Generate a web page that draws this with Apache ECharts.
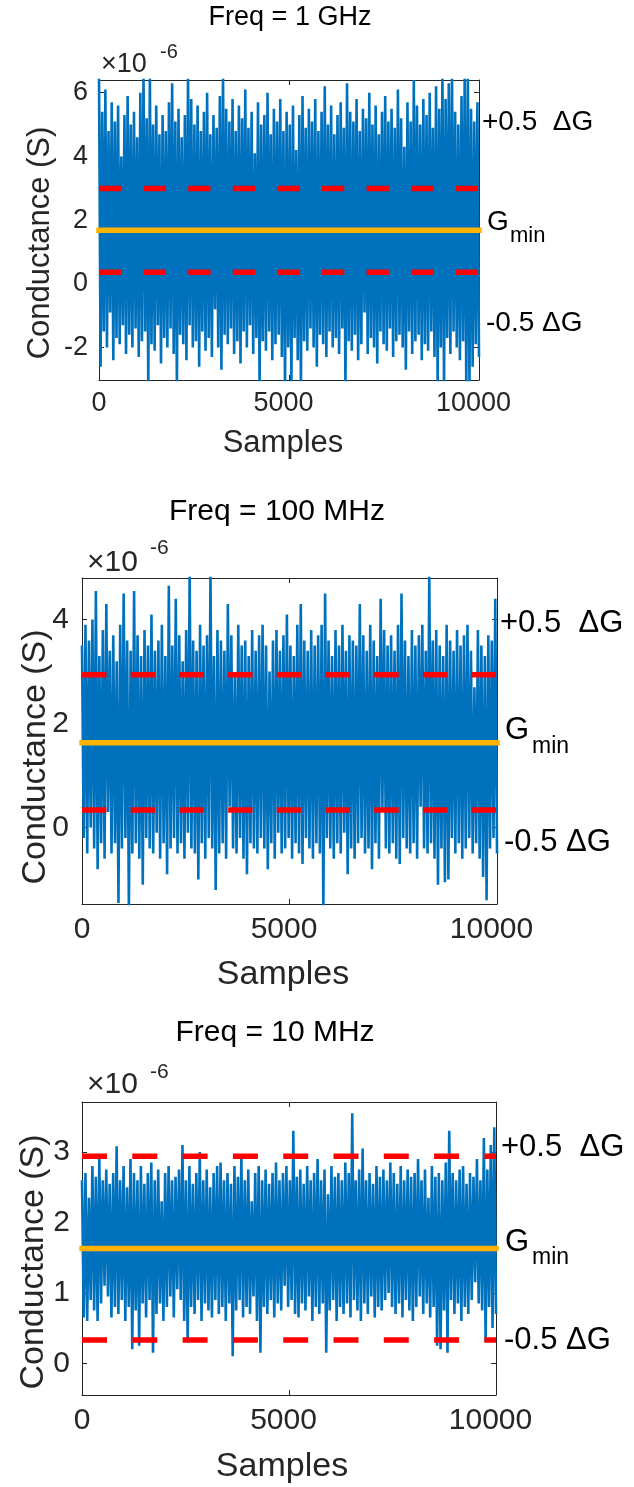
<!DOCTYPE html>
<html>
<head>
<meta charset="utf-8">
<script src="https://cdn.jsdelivr.net/npm/echarts@6/dist/echarts.min.js"></script>
<style>
  html, body { margin: 0; padding: 0; background: #fff; }
  #chart { width: 634px; height: 1487px; }
</style>
</head>
<body>
<div id="chart"></div>
<script>
// values are in units of 1e-6 S, samples run 0..10000
const titles = ['Freq = 1 GHz', 'Freq = 100 MHz', 'Freq = 10 MHz'];
const xTicks = [0, 5000, 10000];
const xMax = 10000;

const yTicks1 = [-2, 0, 2, 4, 6];
const yTicks2 = [0, 2, 4];
const yTicks3 = [0, 1, 2, 3];
const yRange1 = [-3.02, 6.4];
const yRange2 = [-1.47, 4.8];
const yRange3 = [-0.45, 3.71];

// G_min and +/-0.5 dG levels read per panel
const gMin = [1.68, 1.63, 1.63];
const gUpper = [2.99, 2.94, 2.94];
const gLower = [0.36, 0.34, 0.33];

// noise envelope: local maxima / minima, 120 bins across the samples
const peaks1 = [6.6, 5.4, 6.1, 4.8, 5.7, 5.1, 5.6, 4.0, 5.3, 5.9,
  5.0, 5.4, 4.6, 6.0, 6.6, 5.2, 6.6, 5.0, 5.6, 4.7,
  5.3, 4.8, 5.7, 6.3, 5.1, 5.5, 4.6, 5.3, 6.6, 5.8,
  5.0, 5.6, 4.8, 5.4, 6.0, 4.7, 5.3, 4.9, 5.9, 6.6,
  5.5, 5.1, 5.8, 4.8, 5.6, 5.2, 6.1, 4.9, 5.4, 4.1,
  5.7, 5.0, 5.3, 6.0, 4.7, 5.5, 5.1, 5.8, 4.8, 5.4,
  5.0, 5.6, 4.2, 5.3, 5.9, 4.9, 5.5, 5.1, 5.8, 4.8,
  5.4, 6.2, 5.0, 5.6, 4.7, 5.3, 5.7, 4.9, 6.3, 5.4,
  5.1, 5.8, 4.8, 5.5, 5.2, 6.0, 5.0, 5.6, 4.7, 5.4,
  5.9, 5.1, 5.5, 4.9, 6.1, 5.2, 4.3, 5.7, 5.1, 6.4,
  5.6, 5.0, 5.8, 5.3, 6.0, 4.9, 6.2, 5.5, 6.6, 5.8,
  6.3, 6.6, 5.4, 5.0, 5.9, 6.6, 6.6, 5.5, 5.1, 5.7];
const troughs1 = [-2.6, -1.5, -2.0, -0.9, -2.4, -1.7, -1.9, -1.3, -2.2, -1.6,
  -2.0, -1.4, -2.3, -1.8, -1.5, -3.3, -1.9, -2.1, -1.3, -2.5,
  -1.7, -2.0, -1.4, -2.2, -3.3, -1.6, -1.9, -2.4, -1.3, -2.0,
  -1.8, -2.6, -1.5, -2.1, -1.7, -2.3, -0.8, -2.0, -2.7, -1.6,
  -1.9, -1.4, -2.2, -1.8, -2.5, -1.5, -2.0, -1.3, -2.2, -1.7,
  -3.3, -1.8, -2.1, -1.5, -2.4, -1.9, -1.6, -2.3, -3.3, -2.0,
  -3.3, -1.7, -2.4, -3.3, -1.8, -2.1, -1.4, -2.0, -2.6, -1.6,
  -1.9, -2.3, -1.5, -2.0, -1.7, -2.2, -1.4, -3.3, -1.8, -2.1,
  -1.6, -2.4, -1.9, -0.9, -2.2, -1.7, -2.0, -2.5, -1.5, -1.9,
  -2.1, -1.4, -2.3, -1.8, -1.6, -2.0, -2.7, -1.5, -2.2, -1.8,
  -1.6, -2.4, -1.9, -2.1, -1.5, -2.3, -3.3, -2.0, -3.3, -1.7,
  -2.2, -1.5, -2.0, -2.4, -1.8, -3.3, -3.3, -2.6, -1.9, -2.3];

const peaks2 = [3.5, 3.9, 3.6, 4.0, 4.55, 3.3, 3.8, 4.3, 3.4, 3.7,
  3.2, 3.9, 4.5, 3.6, 3.4, 4.55, 3.7, 3.3, 3.8, 3.5,
  4.1, 3.4, 3.6, 3.9, 3.3, 4.65, 3.5, 4.4, 3.7, 3.2,
  3.8, 4.9, 3.6, 3.4, 3.9, 3.5, 3.7, 4.9, 3.3, 3.8,
  3.6, 3.4, 4.3, 3.7, 2.9, 3.9, 3.5, 3.6, 3.3, 3.8,
  3.4, 3.7, 3.9, 3.5, 3.0, 3.6, 3.8, 3.4, 3.7, 4.1,
  3.5, 3.3, 3.9, 4.3, 3.6, 3.4, 3.8, 3.5, 3.7, 3.9,
  4.5, 3.6, 3.3, 3.8, 3.5, 3.9, 3.4, 3.7, 3.6, 3.5,
  4.3, 3.7, 3.4, 3.9, 3.6, 3.3, 4.4, 3.8, 3.5, 3.7,
  3.4, 3.9, 4.5, 3.6, 3.3, 3.8, 3.5, 3.7, 3.9, 3.4,
  4.9, 3.6, 3.8, 3.5, 3.3, 3.9, 3.6, 3.4, 3.8, 3.5,
  3.7, 3.9, 3.4, 2.7, 3.8, 3.5, 3.3, 3.7, 3.6, 4.4];
const troughs2 = [-0.2, -0.5, 0.0, -0.4, -0.8, -0.3, -0.6, 0.3, -0.5, -0.3,
  -1.45, -0.4, -0.2, -1.6, -0.5, -0.3, -0.6, -1.1, -0.2, -0.4,
  -0.5, -0.1, -0.6, -0.3, -0.9, -0.4, -0.2, -0.5, -0.3, -0.6,
  -0.1, -0.4, -0.5, -1.0, -0.3, -0.6, -0.2, -0.4, -1.2, -0.5,
  -0.3, -0.6, 0.4, -0.4, -0.5, -0.2, -0.6, -0.9, -0.3, -0.4,
  -0.5, -0.2, -0.4, -0.8, -0.3, -0.6, -0.1, -0.5, -0.4, -0.2,
  -0.6, -0.3, -0.5, -0.7, -0.2, -0.4, -0.6, -0.3, -0.5, -1.6,
  -0.2, -0.4, -0.6, -0.3, -0.5, -0.1, -0.9, -0.4, -0.6, -0.3,
  -0.2, -0.5, -0.4, -0.8, -0.3, -0.6, 0.35, -0.4, -0.5, -0.3,
  -0.6, -0.7, -0.2, -0.4, -0.5, -0.3, -0.6, 0.4, -0.4, -0.5,
  -0.3, -0.6, -1.1, -0.4, -1.05, -1.0, -0.2, -0.5, -0.3, -0.6,
  -0.4, -0.2, -0.5, -0.3, -0.6, -0.95, -1.4, -0.4, -0.2, -0.5];

const peaks3 = [2.6, 2.7, 2.35, 2.8, 2.65, 2.9, 2.6, 2.75, 2.55, 2.7,
  3.08, 2.6, 2.8, 2.5, 2.9, 2.7, 2.6, 2.8, 2.55, 2.7,
  2.85, 2.6, 2.75, 2.3, 2.7, 2.8, 2.6, 2.65, 2.75, 3.1,
  2.6, 2.8, 2.55, 2.7, 3.0, 2.6, 2.75, 2.5, 2.7, 2.8,
  2.85, 2.6, 2.7, 2.55, 2.8, 2.65, 2.95, 2.6, 2.75, 2.3,
  2.7, 2.8, 2.6, 2.75, 2.55, 2.7, 2.85, 2.6, 2.7, 2.8,
  2.6, 3.3, 2.65, 2.75, 2.55, 2.8, 2.6, 2.7, 2.9, 2.6,
  2.75, 2.4, 2.8, 2.65, 2.7, 2.6, 2.85, 2.7, 3.55, 2.6,
  2.75, 3.05, 2.6, 2.7, 2.55, 2.8, 2.65, 2.75, 2.6, 2.85,
  2.7, 2.55, 2.8, 2.6, 2.75, 2.65, 2.7, 2.9, 2.6, 2.75,
  2.35, 2.8, 2.65, 2.7, 2.6, 2.85, 3.3, 2.7, 2.6, 2.75,
  2.8, 2.55, 2.7, 2.65, 2.9, 2.6, 3.2, 2.75, 3.1, 3.35];
const troughs3 = [0.65, 0.6, 0.9, 0.75, 0.6, 0.85, 1.1, 0.95, 0.65, 0.8,
  0.7, 0.9, 0.6, 0.8, 0.2, 0.75, 0.25, 0.85, 0.65, 0.9,
  0.15, 0.7, 0.85, 0.6, 0.8, 0.95, 0.65, 1.05, 0.9, 0.6,
  0.3, 0.8, 0.7, 0.9, 0.6, 0.85, 0.75, 0.65, 0.9, 0.7,
  0.8, 0.6, 0.85, 0.1, 0.75, 0.9, 0.65, 0.8, 0.7, 0.95,
  0.6, 0.15, 0.8, 0.7, 0.9, 0.65, 0.85, 0.75, 1.1, 0.8,
  0.9, 0.7, 0.65, 0.85, 0.75, 0.95, 0.6, 0.8, 0.7, 0.85,
  0.15, 0.75, 0.9, 0.6, 0.8, 0.7, 0.85, 0.65, 0.9, 0.75,
  0.6, 0.85, 0.7, 0.95, 0.65, 0.8, 0.75, 0.9, 1.0, 0.8,
  0.7, 0.85, 0.65, 0.9, 0.75, 0.6, 0.8, 0.95, 0.7, 0.85,
  0.65, 0.8, 0.25, 0.2, 0.75, 0.15, 0.9, 0.7, 0.85, 0.6,
  0.8, 0.7, 0.9, 1.15, 0.85, 0.75, 0.3, 0.8, 0.5, 0.7];

const BLUE = '#0072BD';
const RED = '#FF0000';
const YELLOW = '#FFB300';
const AXIS = '#262626';
const FONT = '"Liberation Sans", Arial, Helvetica, sans-serif';

// layout of the three panels (pixels)
const panels = [
  { left: 99, top: 80, width: 380, height: 300, tick: 27, name: 31, sub: 20, note: 28, dash: [22.3, 22.3],
    yTicks: yTicks1, yRange: yRange1, peaks: peaks1, troughs: troughs1, yMargin: 11, xMargin: 10 },
  { left: 82, top: 578, width: 415, height: 326, tick: 30, name: 34, sub: 21, note: 31, dash: [24.4, 24.3],
    yTicks: yTicks2, yRange: yRange2, peaks: peaks2, troughs: troughs2, yMargin: 13, xMargin: 11 },
  { left: 82, top: 1102, width: 414, height: 293, tick: 30, name: 34, sub: 21, note: 31, dash: [25, 25.3],
    yTicks: yTicks3, yRange: yRange3, peaks: peaks3, troughs: troughs3, yMargin: 12, xMargin: 11 }
];

// text placement per panel
const texts = [
  { title: [290, 18], times: [101, 65], exp: [160, 52], ylab: [40, 243], xlab: [283, 443],
    plus: [482, 122], g: [487, 222], min: [510, 236], minus: [486, 323] },
  { title: [277, 512], times: [87, 563], exp: [150, 548], ylab: [36, 757], xlab: [283, 975],
    plus: [500, 623], g: [505, 730], min: [532, 747], minus: [504, 842] },
  { title: [275, 1033], times: [87, 1085], exp: [150, 1072], ylab: [34, 1262], xlab: [282, 1467],
    plus: [501, 1147], g: [505, 1242], min: [532, 1258], minus: [504, 1340] }
];

function zigzag(peaks, troughs) {
  const n = peaks.length;
  const step = xMax / (2 * n - 1);
  const pts = [];
  for (let i = 0; i < n; i++) {
    pts.push([2 * i * step, peaks[i]]);
    pts.push([(2 * i + 1) * step, troughs[i]]);
  }
  return pts;
}

function label(x, y, text, size, opts) {
  opts = opts || {};
  return {
    type: 'text', x: x, y: y, rotation: opts.rotation || 0, silent: true, z: 10,
    style: {
      text: text, fontSize: size, fontFamily: FONT, fill: opts.color || '#000',
      align: opts.align || 'center', textAlign: opts.align || 'center',
      verticalAlign: 'middle', textVerticalAlign: 'middle'
    }
  };
}

const grids = [], xAxes = [], yAxes = [], series = [], graphics = [];

panels.forEach(function (p, i) {
  grids.push({ left: p.left, top: p.top, width: p.width, height: p.height, containLabel: false, outerBoundsMode: 'none' });
  const line = { show: true, onZero: false, lineStyle: { color: AXIS, width: 1 } };
  const tick = { show: true, inside: true, length: 5, lineStyle: { color: AXIS, width: 1 } };
  ['bottom', 'top'].forEach(function (pos) {
    xAxes.push({
      gridIndex: i, type: 'value', position: pos, min: 0, max: xMax,
      axisLine: line,
      axisTick: Object.assign({ customValues: xTicks }, tick),
      axisLabel: {
        show: pos === 'bottom', customValues: xTicks, margin: p.xMargin,
        color: AXIS, fontSize: p.tick, fontFamily: FONT,
        formatter: function (v) { return v === 0 ? '{z|0}' : '{s|' + v + '}'; },
        rich: {
          z: { fontSize: p.tick, fontFamily: FONT, color: AXIS },
          s: { fontSize: p.tick, fontFamily: FONT, color: AXIS, padding: [0, 11, 0, 0] }
        }
      },
      splitLine: { show: false }
    });
  });
  ['left', 'right'].forEach(function (pos) {
    yAxes.push({
      gridIndex: i, type: 'value', position: pos, min: p.yRange[0], max: p.yRange[1],
      axisLine: line,
      axisTick: Object.assign({ customValues: p.yTicks }, tick),
      axisLabel: {
        show: pos === 'left', customValues: p.yTicks, margin: p.yMargin,
        color: AXIS, fontSize: p.tick, fontFamily: FONT
      },
      splitLine: { show: false }
    });
  });

  const ax = { xAxisIndex: 2 * i, yAxisIndex: 2 * i, animation: false, silent: true, showSymbol: false, symbol: 'none' };
  // the noise trace is thick enough that neighbouring strokes close into a solid core
  series.push(Object.assign({
    type: 'line', z: 1, data: zigzag(p.peaks, p.troughs),
    lineStyle: { color: BLUE, width: 2.6, join: 'bevel' }
  }, ax));
  [gUpper[i], gLower[i]].forEach(function (level) {
    series.push(Object.assign({
      type: 'line', z: 3, data: [[0, level], [xMax, level]],
      lineStyle: { color: RED, width: 5.5, type: p.dash, cap: 'butt' }
    }, ax));
  });
  series.push(Object.assign({
    type: 'line', z: 4, clip: false, data: [[0, gMin[i]], [xMax, gMin[i]]],
    lineStyle: { color: YELLOW, width: 5.5, cap: 'square' }
  }, ax));

  const t = texts[i];
  graphics.push(label(t.title[0], t.title[1], titles[i], p.tick));
  graphics.push(label(t.times[0], t.times[1], '\u00d710', p.tick, { align: 'left', color: AXIS }));
  graphics.push(label(t.exp[0], t.exp[1], '-6', p.sub, { align: 'left', color: AXIS }));
  graphics.push(label(t.ylab[0], t.ylab[1], 'Conductance (S)', p.name, { rotation: Math.PI / 2, color: AXIS }));
  graphics.push(label(t.xlab[0], t.xlab[1], 'Samples', p.name, { color: AXIS }));
  graphics.push(label(t.plus[0], t.plus[1], '+0.5  \u0394G', p.note, { align: 'left' }));
  graphics.push(label(t.g[0], t.g[1], 'G', p.note, { align: 'left' }));
  graphics.push(label(t.min[0], t.min[1], 'min', p.sub + 2, { align: 'left' }));
  graphics.push(label(t.minus[0], t.minus[1], '-0.5 \u0394G', p.note, { align: 'left' }));
});

const chart = echarts.init(document.getElementById('chart'), null, { renderer: 'canvas' });
chart.setOption({
  animation: false,
  backgroundColor: '#fff',
  grid: grids,
  xAxis: xAxes,
  yAxis: yAxes,
  series: series,
  graphic: graphics
});
</script>
</body>
</html>
